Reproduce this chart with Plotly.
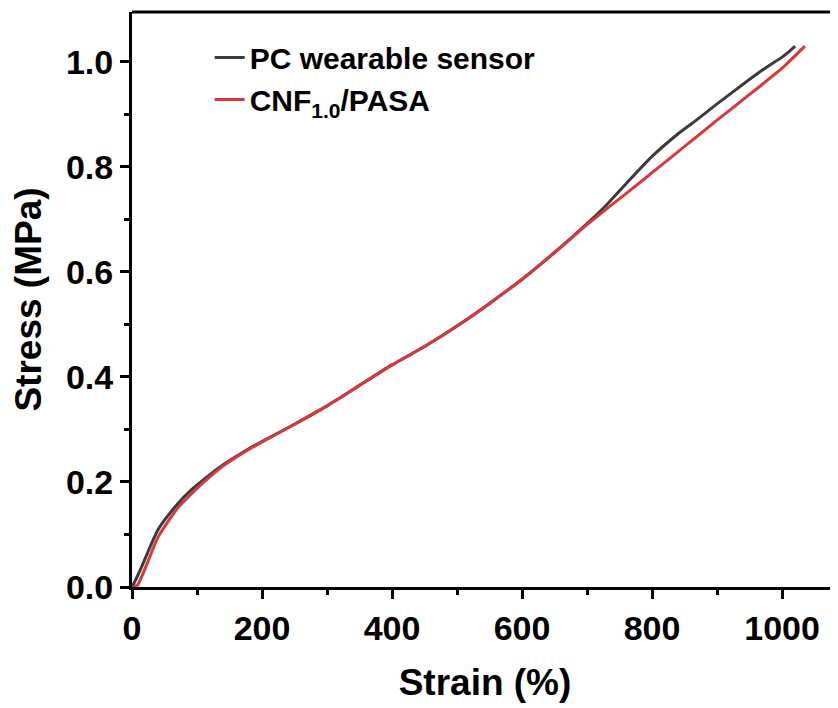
import plotly.graph_objects as go

# PC wearable sensor (black)
pc_strain = [0, 5, 15, 40, 70, 92, 120, 143, 170, 194, 250, 300, 350, 400, 450, 500, 550, 600, 650, 700, 731, 760, 800, 843, 869, 900, 946, 975, 1000, 1012, 1020]
pc_stress = [0, 0.012, 0.039, 0.109, 0.158, 0.186, 0.214, 0.235, 0.256, 0.273, 0.310, 0.345, 0.384, 0.423, 0.458, 0.497, 0.540, 0.586, 0.637, 0.692, 0.729, 0.768, 0.820, 0.866, 0.890, 0.920, 0.963, 0.989, 1.009, 1.021, 1.030]

# CNF1.0/PASA (red)
cnf_strain = [0, 8, 15, 25, 40, 70, 92, 120, 143, 170, 194, 250, 300, 350, 400, 450, 500, 550, 600, 650, 700, 731, 770, 800, 850, 900, 950, 1000, 1035]
cnf_stress = [0, 0.003, 0.02, 0.05, 0.095, 0.15, 0.178, 0.210, 0.233, 0.255, 0.272, 0.310, 0.345, 0.384, 0.423, 0.458, 0.497, 0.540, 0.586, 0.637, 0.690, 0.721, 0.759, 0.789, 0.839, 0.889, 0.938, 0.988, 1.030]

x_ticks = [0, 200, 400, 600, 800, 1000]
y_ticks = [0.0, 0.2, 0.4, 0.6, 0.8, 1.0]
y_ticklabels = ["0.0", "0.2", "0.4", "0.6", "0.8", "1.0"]

FONT = "Liberation Sans, Arial, sans-serif"

fig = go.Figure()
fig.add_trace(go.Scatter(x=pc_strain, y=pc_stress, mode="lines", name="PC wearable sensor",
                         line=dict(color="#3b3b3b", width=3, shape="spline", smoothing=0.6)))
fig.add_trace(go.Scatter(x=cnf_strain, y=cnf_stress, mode="lines", name="CNF<sub>1.0</sub>/PASA",
                         line=dict(color="#d8383b", width=3, shape="spline", smoothing=0.6)))

# page body has an 8px margin, so the figure is 8px smaller and offsets shifted
fig.update_layout(
    width=830, height=700,
    margin=dict(l=124, r=0, t=4, b=121, autoexpand=False),
    plot_bgcolor="white", paper_bgcolor="white",
    showlegend=True,
    legend=dict(x=0.11, y=0.966, xanchor="left", yanchor="top", bgcolor="rgba(0,0,0,0)",
                font=dict(family=FONT, size=30, color="black", weight="bold"),
                tracegroupgap=0, itemwidth=30),
    shapes=[dict(type="line", xref="paper", yref="paper", x0=0, x1=1, y0=1, y1=1,
                 line=dict(color="black", width=3))],
)

fig.update_xaxes(
    range=[0, 1086], tickvals=x_ticks, ticks="outside", ticklen=9, tickwidth=3, tickcolor="black",
    showline=True, linewidth=3, linecolor="black", showgrid=False, zeroline=False, automargin=False,
    tickfont=dict(family=FONT, size=34, color="black", weight="bold"),
    minor=dict(dtick=100, ticks="outside", ticklen=5, tickwidth=3, tickcolor="black", showgrid=False),
    title=dict(text="Strain (%)", font=dict(family=FONT, size=37, color="black", weight="bold"), standoff=24),
)
fig.update_yaxes(
    range=[0, 1.095], tickvals=y_ticks, ticktext=y_ticklabels, ticks="outside", ticklen=9, tickwidth=3,
    tickcolor="black",
    showline=True, linewidth=3, linecolor="black", showgrid=False, zeroline=False, automargin=False,
    tickfont=dict(family=FONT, size=34, color="black", weight="bold"),
    minor=dict(dtick=0.1, ticks="outside", ticklen=5, tickwidth=3, tickcolor="black", showgrid=False),
    title=dict(text="Stress (MPa)", font=dict(family=FONT, size=37, color="black", weight="bold"), standoff=14),
)

fig.write_html("out.html")
